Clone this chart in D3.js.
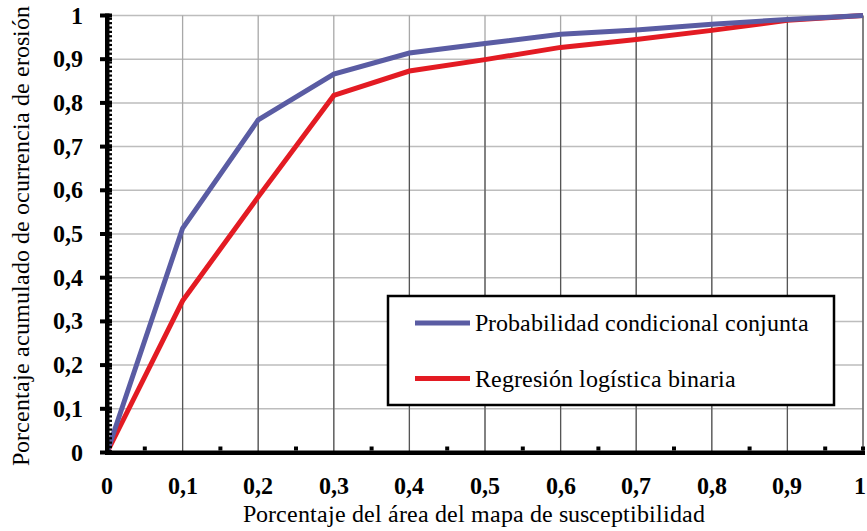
<!DOCTYPE html>
<html>
<head>
<meta charset="utf-8">
<script src="https://cdn.jsdelivr.net/npm/d3@7"></script>
<style>
  @font-face { font-family: "ChartSerif"; font-weight: normal; src: local("Liberation Serif"), local("LiberationSerif"), local("Times New Roman"); }
  @font-face { font-family: "ChartSerif"; font-weight: bold; src: local("Liberation Serif Bold"), local("LiberationSerif-Bold"), local("Times New Roman Bold"); }
  svg text { font-family: "ChartSerif", "Times New Roman", "Liberation Serif", serif !important; }
</style>
</head>
<body style="margin:0">
<svg id="chart" width="867" height="531"></svg>
<script>
// data
const areaShare = [0, 0.1, 0.2, 0.3, 0.4, 0.5, 0.6, 0.7, 0.8, 0.9, 1];
const condProb = [0, 0.513, 0.761, 0.866, 0.914, 0.936, 0.957, 0.967, 0.980, 0.991, 1];
const logReg   = [0, 0.347, 0.585, 0.817, 0.873, 0.899, 0.927, 0.945, 0.966, 0.989, 1];
const seriesNames = ["Probabilidad condicional conjunta", "Regresión logística binaria"];
const tickValues = [0, 0.1, 0.2, 0.3, 0.4, 0.5, 0.6, 0.7, 0.8, 0.9, 1];
const xTitle = "Porcentaje del área del mapa de susceptibilidad";
const yTitle = "Porcentaje acumulado de ocurrencia de erosión";

const svg = d3.select("svg#chart");
const colors = ["#5a5ca3", "#e31b23"];

const x = d3.scaleLinear().domain([0, 1]).range([107, 863]);
const y = d3.scaleLinear().domain([0, 1]).range([452.5, 15.5]);
const fmt = d => d3.format(".1f")(d).replace(".", ",").replace(/,0$/, "");

// gridlines
svg.append("g").selectAll("line.hgrid").data(tickValues.slice(1))
    .join("line").attr("class", "hgrid")
    .attr("x1", x(0)).attr("x2", x(1))
    .attr("y1", d => y(d)).attr("y2", d => y(d))
    .attr("stroke", "#bdbdbd").attr("stroke-width", 1.5)
svg.append("g").selectAll("line.vgrid").data(tickValues.slice(1))
    .join("line").attr("class", "vgrid")
    .attr("x1", d => x(d)).attr("x2", d => x(d))
    .attr("y1", y(1)).attr("y2", y(0))
    .attr("stroke", "#a8a8a8").attr("stroke-width", 1.3)

// drop lines under the upper curve
svg.append("g").selectAll("line.drop").data(areaShare.slice(1))
    .join("line").attr("class", "drop")
    .attr("x1", d => x(d)).attr("x2", d => x(d))
    .attr("y1", (d, i) => y(condProb[i + 1])).attr("y2", y(0))
    .attr("stroke", "#555").attr("stroke-width", 1.2)

// series lines
const line = d3.line().x(d => x(d[0])).y(d => y(d[1]));
[logReg, condProb].forEach((vals, k) => {
    svg.append("path")
        .datum(areaShare.map((a, i) => [a, vals[i]]))
        .attr("d", line)
        .attr("fill", "none")
        .attr("stroke", k === 0 ? colors[1] : colors[0])
        .attr("stroke-width", 5)
        .attr("stroke-linejoin", "miter")
})

// y axis: thick spine with ruler-like minor ticks
svg.append("rect").attr("x", x(0) - 2).attr("y", y(1) - 2)
    .attr("width", 4.5).attr("height", y(0) - y(1) + 4).attr("fill", "#000")
svg.append("g").selectAll("rect.yminor").data(d3.range(0, 100))
    .join("rect").attr("class", "yminor")
    .attr("x", x(0) + 2).attr("y", d => y(d / 100) - 2.2)
    .attr("width", 3).attr("height", 2.2).attr("fill", "#000")
svg.append("g").selectAll("rect.ymajor").data(tickValues)
    .join("rect").attr("class", "ymajor")
    .attr("x", x(0) - 7).attr("y", d => y(d) - 2)
    .attr("width", 12).attr("height", 4).attr("fill", "#000")

// x axis spine with half-step ticks
svg.append("rect").attr("x", x(0) - 2).attr("y", y(0) - 2)
    .attr("width", x(1) - x(0) + 4).attr("height", 4.5).attr("fill", "#000")
svg.append("g").selectAll("rect.xminor").data(d3.range(0.05, 1.01, 0.1).concat([1]))
    .join("rect").attr("class", "xminor")
    .attr("x", d => Math.min(x(d) - 2, x(1) - 2)).attr("y", y(0) - 6)
    .attr("width", 4).attr("height", 4).attr("fill", "#000")

// tick labels
svg.append("g").selectAll("text.ylab").data(tickValues)
    .join("text").attr("class", "ylab")
    .attr("font-size", 24).attr("font-weight", "bold")
    .attr("x", 83).attr("y", d => y(d) + 8)
    .attr("text-anchor", "end")
    .text(fmt)
svg.append("g").selectAll("text.xlab").data(tickValues)
    .join("text").attr("class", "xlab")
    .attr("font-size", 24).attr("font-weight", "bold")
    .attr("x", d => Math.min(x(d), 860)).attr("y", 494)
    .attr("text-anchor", "middle")
    .text(fmt)

// axis titles
svg.append("text").attr("font-size", 24)
    .attr("x", 474).attr("y", 522).attr("text-anchor", "middle")
    .text(xTitle)
svg.append("text").attr("font-size", 24)
    .attr("transform", "translate(29,236) rotate(-90)")
    .attr("text-anchor", "middle")
    .text(yTitle)

// legend
const legend = svg.append("g").attr("class", "legend")
legend.append("rect").attr("x", 388).attr("y", 296)
    .attr("width", 446).attr("height", 109)
    .attr("fill", "#fff").attr("stroke", "#000").attr("stroke-width", 2.5)
seriesNames.forEach((name, i) => {
    const ly = 323 + i * 55.5;
    legend.append("line").attr("x1", 415).attr("x2", 470)
        .attr("y1", ly).attr("y2", ly)
        .attr("stroke", colors[i]).attr("stroke-width", 5)
    legend.append("text").attr("font-size", 24)
        .attr("x", 475).attr("y", ly + 8)
        .text(name)
})
</script>
</body>
</html>
